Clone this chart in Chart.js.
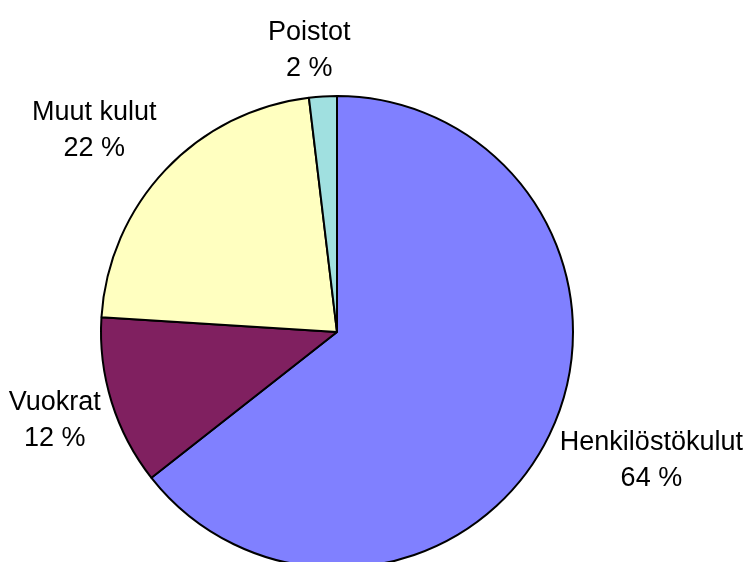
<!DOCTYPE html>
<html>
<head>
<meta charset="utf-8">
<script src="https://cdn.jsdelivr.net/npm/chart.js@4"></script>
<style>
  html, body { margin: 0; padding: 0; background: #fff; overflow: hidden; }
  #wrap { width: 747px; height: 562px; overflow: hidden; }
</style>
</head>
<body>
<div id="wrap"><canvas id="pie" width="747" height="600"></canvas></div>
<script>
// Data
const categories = ["Henkilöstökulut", "Vuokrat", "Muut kulut", "Poistot"];
const values = [64.4, 11.6, 22.1, 1.9];
const colors = ["#8080FF", "#802060", "#FFFFC0", "#A0E0E0"];

const FONT = '27px "Liberation Sans", Arial, sans-serif';
const LINE_H = 36;

// labels outside the pie, Excel style
const outsideLabels = {
  id: "outsideLabels",
  afterDraw(chart, args, opts) {
    const ctx = chart.ctx;
    const meta = chart.getDatasetMeta(0);
    const total = values.reduce((a, b) => a + b, 0);
    const nudge = opts.nudge || [];
    ctx.save();
    ctx.font = FONT;
    ctx.fillStyle = "#000";
    ctx.textAlign = "center";
    ctx.textBaseline = "middle";
    meta.data.forEach((arc, i) => {
      const p = arc.getProps(["x", "y", "startAngle", "endAngle", "outerRadius"], true);
      const a = (p.startAngle + p.endAngle) / 2;
      const ux = Math.cos(a), uy = Math.sin(a);
      const lines = [categories[i], Math.round(values[i] / total * 100) + " %"];
      const w = Math.max(...lines.map(t => ctx.measureText(t).width));
      const h = LINE_H * lines.length;
      const d = p.outerRadius + 22;
      const n = nudge[i] || [0, 0];
      const cx = p.x + ux * d + ux * w / 2 + n[0];
      const cy = p.y + uy * d + uy * h / 2 + n[1];
      lines.forEach((t, k) => {
        ctx.fillText(t, cx, cy - h / 2 + LINE_H * (k + 0.5));
      });
    });
    ctx.restore();
  }
};

new Chart(document.getElementById("pie").getContext("2d"), {
  type: "pie",
  data: {
    labels: categories,
    datasets: [
      {
        data: values,
        backgroundColor: colors,
        borderColor: "#000",
        borderWidth: 2
      }
    ]
  },
  options: {
    responsive: false,
    animation: false,
    layout: { padding: { left: 100, right: 173, top: 95, bottom: 31 } },
    plugins: {
      legend: { display: false },
      tooltip: { enabled: false },
      outsideLabels: { nudge: [[0, 0], [8, 1], [-10, 0], [-10, 12]] }
    }
  },
  plugins: [outsideLabels]
});
</script>
</body>
</html>
